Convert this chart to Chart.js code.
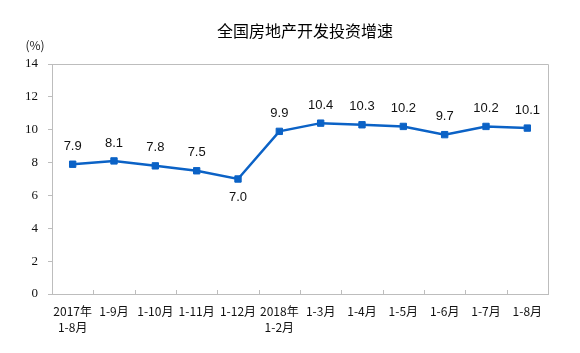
<!DOCTYPE html>
<html>
<head>
<meta charset="utf-8">
<script src="https://cdn.jsdelivr.net/npm/chart.js@4"></script>
<style>
  body { margin: 0; background: #fff; }
  #wrap { width: 580px; height: 353px; }
</style>
</head>
<body>
<div id="wrap"><canvas id="invest"></canvas></div>
<script>
const chartTitle = '全国房地产开发投资增速';
const categories = [
    ['2017年', '1-8月'], '1-9月', '1-10月', '1-11月', '1-12月',
    ['2018年', '1-2月'], '1-3月', '1-4月', '1-5月', '1-6月', '1-7月', '1-8月'
];
const growth = [7.9, 8.1, 7.8, 7.5, 7.0, 9.9, 10.4, 10.3, 10.2, 9.7, 10.2, 10.1];
const yTicks = [0, 2, 4, 6, 8, 10, 12, 14];

const lineBlue = '#0b62c6';
const axisGrey = '#bdbdbd';

// title, unit, value labels, frame and inward x ticks
const decorate = {
    id: 'decorate',
    afterDatasetsDraw(chart) {
        const ctx = chart.ctx;
        const area = chart.chartArea;
        const xs = chart.scales.x;
        const meta = chart.getDatasetMeta(0);
        const low = Math.min(...growth);

        ctx.save();
        ctx.strokeStyle = axisGrey;
        ctx.lineWidth = 1;
        ctx.beginPath();
        ctx.moveTo(area.left + 0.5, area.bottom + 0.5);
        ctx.lineTo(area.left + 0.5, area.top + 0.5);
        ctx.lineTo(area.right + 0.5, area.top + 0.5);
        ctx.lineTo(area.right + 0.5, area.bottom + 0.5);
        ctx.lineTo(area.left + 0.5, area.bottom + 0.5);
        ctx.stroke();

        ctx.beginPath();
        for (let i = 1; i < categories.length; i++) {
            const x = Math.round((xs.getPixelForTick(i - 1) + xs.getPixelForTick(i)) / 2) + 0.5;
            ctx.moveTo(x, area.bottom);
            ctx.lineTo(x, area.bottom - 4);
        }
        ctx.stroke();

        ctx.fillStyle = '#111';
        ctx.font = '13px "Liberation Sans", Arial, sans-serif';
        ctx.textAlign = 'center';
        ctx.textBaseline = 'middle';
        meta.data.forEach((pt, i) => {
            const below = growth[i] === low;
            ctx.fillText(growth[i].toFixed(1), pt.x, pt.y + (below ? 18 : -18));
        });

        ctx.fillStyle = '#000';
        ctx.font = '16px "Noto Sans CJK SC", sans-serif';
        ctx.fillText(chartTitle, (area.left + area.right) / 2 + 5, 31);

        ctx.font = '12px "Noto Sans CJK SC", sans-serif';
        ctx.fillStyle = '#222';
        ctx.fillText('(%)', 35, 45);
        ctx.restore();
    }
};

const config = {
    type: 'line',
    data: {
        labels: categories,
        datasets: [{
            data: growth,
            borderColor: lineBlue,
            backgroundColor: lineBlue,
            borderWidth: 2.5,
            pointStyle: 'rect',
            pointRadius: 4.5,
            pointBorderWidth: 1,
            tension: 0
        }]
    },
    options: {
        responsive: true,
        maintainAspectRatio: false,
        animation: false,
        layout: { padding: { left: 8, right: 32, top: 64, bottom: 0 } },
        plugins: {
            legend: { display: false },
            tooltip: { enabled: false },
            title: { display: false }
        },
        scales: {
            x: {
                offset: true,
                grid: { display: false, drawTicks: false },
                border: { display: true, color: axisGrey },
                ticks: {
                    color: '#111',
                    font: { family: '"Noto Sans CJK SC", sans-serif', size: 12, lineHeight: 1.3 },
                    maxRotation: 0,
                    autoSkip: false,
                    padding: 10
                },
                afterFit(scale) { scale.height = 59; }
            },
            y: {
                min: 0,
                max: 14,
                afterBuildTicks(scale) { scale.ticks = yTicks.map(v => ({ value: v })); },
                grid: { drawOnChartArea: false, tickLength: 4, color: axisGrey },
                border: { display: true, color: axisGrey },
                ticks: {
                    color: '#111',
                    font: { family: '"Liberation Serif", "Times New Roman", serif', size: 13 },
                    padding: 10
                },
                afterFit(scale) { scale.width = 44; }
            }
        }
    },
    plugins: [decorate]
};

new Chart(document.getElementById('invest'), config);
</script>
</body>
</html>
